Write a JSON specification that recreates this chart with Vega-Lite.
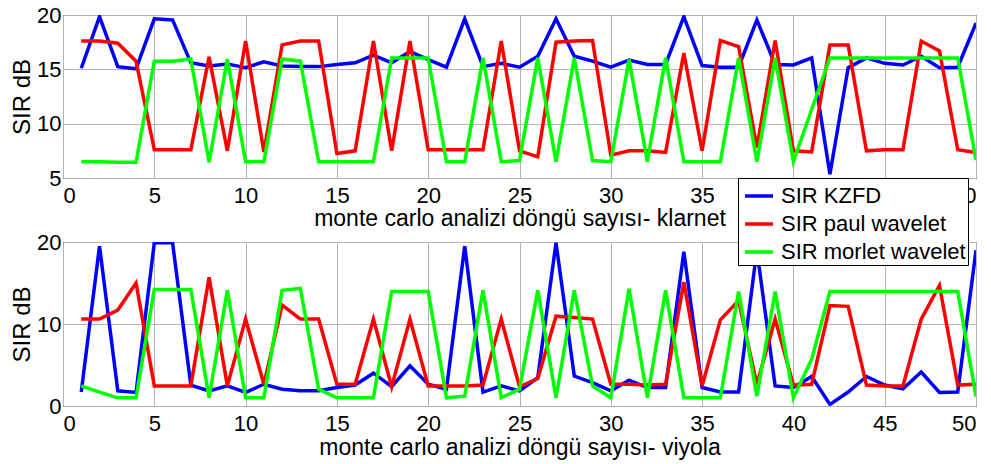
{
  "$schema": "https://vega.github.io/schema/vega-lite/v6.json",
  "padding": {"left": 10, "top": 3, "right": 0, "bottom": 0},
  "background": "white",
  "config": {
    "font": "Liberation Sans",
    "view": {"stroke": "black", "strokeWidth": 1},
    "axis": {
      "labelFont": "Liberation Sans", "labelFontSize": 22, "labelColor": "black",
      "titleFont": "Liberation Sans", "titleFontSize": 23, "titleFontWeight": "normal", "titleColor": "black",
      "domain": false, "ticks": false, "gridColor": "#b4b4b4", "gridOpacity": 1, "gridWidth": 1
    },
    "line": {"strokeWidth": 3.5}
  },
  "spacing": 64,
  "bounds": "flush",
  "datasets": {
    "klarnet": [
      {"n":1,"KZFD":15.1,"paul":17.6,"morlet":6.5},
      {"n":2,"KZFD":19.85,"paul":17.6,"morlet":6.5},
      {"n":3,"KZFD":15.25,"paul":17.4,"morlet":6.45},
      {"n":4,"KZFD":15.05,"paul":15.75,"morlet":6.45},
      {"n":5,"KZFD":19.65,"paul":7.6,"morlet":15.75},
      {"n":6,"KZFD":19.55,"paul":7.6,"morlet":15.75},
      {"n":7,"KZFD":15.6,"paul":7.6,"morlet":15.95},
      {"n":8,"KZFD":15.3,"paul":16.15,"morlet":6.45},
      {"n":9,"KZFD":15.5,"paul":7.5,"morlet":15.95},
      {"n":10,"KZFD":15.15,"paul":17.6,"morlet":6.5},
      {"n":11,"KZFD":15.7,"paul":7.4,"morlet":6.5},
      {"n":12,"KZFD":15.3,"paul":17.25,"morlet":15.95},
      {"n":13,"KZFD":15.25,"paul":17.6,"morlet":15.75},
      {"n":14,"KZFD":15.25,"paul":17.6,"morlet":6.5},
      {"n":15,"KZFD":15.45,"paul":7.25,"morlet":6.5},
      {"n":16,"KZFD":15.6,"paul":7.5,"morlet":6.5},
      {"n":17,"KZFD":16.3,"paul":17.6,"morlet":6.5},
      {"n":18,"KZFD":15.6,"paul":7.5,"morlet":16.05},
      {"n":19,"KZFD":16.65,"paul":17.6,"morlet":16.05},
      {"n":20,"KZFD":15.9,"paul":7.6,"morlet":16.05},
      {"n":21,"KZFD":15.2,"paul":7.6,"morlet":6.5},
      {"n":22,"KZFD":19.65,"paul":7.6,"morlet":6.5},
      {"n":23,"KZFD":15.25,"paul":7.6,"morlet":16.05},
      {"n":24,"KZFD":15.55,"paul":17.6,"morlet":6.5},
      {"n":25,"KZFD":15.2,"paul":7.5,"morlet":6.6},
      {"n":26,"KZFD":16.2,"paul":6.95,"morlet":16.05},
      {"n":27,"KZFD":19.65,"paul":17.5,"morlet":6.5},
      {"n":28,"KZFD":16.2,"paul":17.6,"morlet":16.05},
      {"n":29,"KZFD":15.75,"paul":17.65,"morlet":6.6},
      {"n":30,"KZFD":15.2,"paul":7.1,"morlet":6.5},
      {"n":31,"KZFD":15.85,"paul":7.5,"morlet":15.9},
      {"n":32,"KZFD":15.45,"paul":7.5,"morlet":6.5},
      {"n":33,"KZFD":15.45,"paul":7.35,"morlet":16.05},
      {"n":34,"KZFD":19.85,"paul":16.5,"morlet":6.5},
      {"n":35,"KZFD":15.35,"paul":7.5,"morlet":6.5},
      {"n":36,"KZFD":15.2,"paul":17.65,"morlet":6.5},
      {"n":37,"KZFD":15.2,"paul":17.1,"morlet":16.05},
      {"n":38,"KZFD":19.55,"paul":7.8,"morlet":6.5},
      {"n":39,"KZFD":15.45,"paul":17.65,"morlet":16.05},
      {"n":40,"KZFD":15.4,"paul":7.5,"morlet":6.5},
      {"n":41,"KZFD":16.05,"paul":7.4,"morlet":11.3},
      {"n":42,"KZFD":5.35,"paul":17.25,"morlet":16.05},
      {"n":43,"KZFD":15.15,"paul":17.25,"morlet":16.05},
      {"n":44,"KZFD":16.05,"paul":7.5,"morlet":16.05},
      {"n":45,"KZFD":15.55,"paul":7.6,"morlet":16.05},
      {"n":46,"KZFD":15.4,"paul":7.6,"morlet":16.05},
      {"n":47,"KZFD":16.2,"paul":17.6,"morlet":16.05},
      {"n":48,"KZFD":15.15,"paul":16.7,"morlet":16.05},
      {"n":49,"KZFD":15.2,"paul":7.6,"morlet":16.05},
      {"n":50,"KZFD":19.25,"paul":7.35,"morlet":6.65}
    ],
    "viyola": [
      {"n":1,"KZFD":1.7,"paul":10.6,"morlet":2.45},
      {"n":2,"KZFD":19.5,"paul":10.6,"morlet":1.7},
      {"n":3,"KZFD":1.85,"paul":11.7,"morlet":1.0},
      {"n":4,"KZFD":1.65,"paul":15.0,"morlet":1.0},
      {"n":5,"KZFD":19.9,"paul":2.45,"morlet":14.2},
      {"n":6,"KZFD":19.9,"paul":2.45,"morlet":14.2},
      {"n":7,"KZFD":2.55,"paul":2.45,"morlet":14.2},
      {"n":8,"KZFD":1.85,"paul":15.7,"morlet":1.0},
      {"n":9,"KZFD":2.45,"paul":2.45,"morlet":14.1},
      {"n":10,"KZFD":1.65,"paul":10.6,"morlet":1.0},
      {"n":11,"KZFD":2.65,"paul":2.65,"morlet":1.0},
      {"n":12,"KZFD":2.05,"paul":12.3,"morlet":14.1},
      {"n":13,"KZFD":1.85,"paul":10.6,"morlet":14.35},
      {"n":14,"KZFD":1.85,"paul":10.6,"morlet":2.05},
      {"n":15,"KZFD":2.25,"paul":2.65,"morlet":1.0},
      {"n":16,"KZFD":2.55,"paul":2.65,"morlet":1.0},
      {"n":17,"KZFD":4.0,"paul":10.6,"morlet":1.0},
      {"n":18,"KZFD":2.35,"paul":2.35,"morlet":13.95},
      {"n":19,"KZFD":4.9,"paul":10.6,"morlet":13.95},
      {"n":20,"KZFD":2.65,"paul":2.45,"morlet":13.95},
      {"n":21,"KZFD":2.05,"paul":2.45,"morlet":1.0},
      {"n":22,"KZFD":19.5,"paul":2.45,"morlet":1.2},
      {"n":23,"KZFD":1.7,"paul":2.55,"morlet":14.1},
      {"n":24,"KZFD":2.45,"paul":10.6,"morlet":1.0},
      {"n":25,"KZFD":1.85,"paul":2.35,"morlet":2.05},
      {"n":26,"KZFD":3.45,"paul":3.35,"morlet":14.1},
      {"n":27,"KZFD":19.9,"paul":10.95,"morlet":1.0},
      {"n":28,"KZFD":3.65,"paul":10.8,"morlet":14.1},
      {"n":29,"KZFD":2.85,"paul":10.6,"morlet":2.45},
      {"n":30,"KZFD":1.85,"paul":2.65,"morlet":1.0},
      {"n":31,"KZFD":3.15,"paul":2.65,"morlet":14.3},
      {"n":32,"KZFD":2.25,"paul":2.55,"morlet":1.0},
      {"n":33,"KZFD":2.25,"paul":2.65,"morlet":14.1},
      {"n":34,"KZFD":18.8,"paul":15.1,"morlet":1.0},
      {"n":35,"KZFD":2.25,"paul":2.45,"morlet":1.0},
      {"n":36,"KZFD":1.7,"paul":10.5,"morlet":1.0},
      {"n":37,"KZFD":1.7,"paul":12.85,"morlet":13.95},
      {"n":38,"KZFD":19.0,"paul":2.65,"morlet":1.2},
      {"n":39,"KZFD":2.45,"paul":10.6,"morlet":13.95},
      {"n":40,"KZFD":2.25,"paul":2.55,"morlet":1.0},
      {"n":41,"KZFD":3.6,"paul":2.65,"morlet":5.7},
      {"n":42,"KZFD":0.2,"paul":12.25,"morlet":13.95},
      {"n":43,"KZFD":1.7,"paul":12.15,"morlet":13.95},
      {"n":44,"KZFD":3.6,"paul":2.55,"morlet":13.95},
      {"n":45,"KZFD":2.55,"paul":2.45,"morlet":13.95},
      {"n":46,"KZFD":2.1,"paul":2.45,"morlet":13.95},
      {"n":47,"KZFD":4.15,"paul":10.6,"morlet":13.95},
      {"n":48,"KZFD":1.65,"paul":14.7,"morlet":13.95},
      {"n":49,"KZFD":1.7,"paul":2.55,"morlet":13.95},
      {"n":50,"KZFD":19.0,"paul":2.65,"morlet":1.15}
    ]
  },
  "vconcat": [
    {
      "width": 913,
      "height": 163,
      "data": {"name": "klarnet"},
      "transform": [{"fold": ["KZFD", "paul", "morlet"], "as": ["seri", "SIR"]}],
      "mark": {"type": "line", "clip": true},
      "encoding": {
        "x": {
          "field": "n", "type": "quantitative",
          "scale": {"domain": [0, 50], "nice": false},
          "axis": {"values": [0,5,10,15,20,25,30,35,40,45,50], "title": "monte carlo analizi döngü sayısı- klarnet", "labelPadding": 7, "titlePadding": 1}
        },
        "y": {
          "field": "SIR", "type": "quantitative",
          "scale": {"domain": [5, 20], "nice": false, "zero": false},
          "axis": {"values": [5,10,15,20], "title": "SIR dB", "titleFontSize": 24, "labelPadding": 2, "titlePadding": 2}
        },
        "color": {
          "field": "seri", "type": "nominal",
          "scale": {"domain": ["KZFD", "paul", "morlet"], "range": ["#0000ff", "#ff0000", "#00ff00"]},
          "legend": {
            "title": null, "orient": "none", "legendX": 675, "legendY": 163,
            "symbolType": "stroke", "symbolSize": 784, "symbolStrokeWidth": 4, "symbolOffset": 3,
            "labelFont": "Liberation Sans", "labelFontSize": 22, "labelColor": "black", "labelLimit": 400,
            "fillColor": "white", "strokeColor": "black", "padding": 2, "rowPadding": 1, "labelOffset": 6,
            "zindex": 1,
            "labelExpr": "datum.label == 'KZFD' ? 'SIR KZFD' : datum.label == 'paul' ? 'SIR paul wavelet' : 'SIR morlet wavelet'"
          }
        }
      }
    },
    {
      "width": 913,
      "height": 164,
      "data": {"name": "viyola"},
      "transform": [{"fold": ["KZFD", "paul", "morlet"], "as": ["seri", "SIR"]}],
      "mark": {"type": "line", "clip": true},
      "encoding": {
        "x": {
          "field": "n", "type": "quantitative",
          "scale": {"domain": [0, 50], "nice": false},
          "axis": {"values": [0,5,10,15,20,25,30,35,40,45,50], "title": "monte carlo analizi döngü sayısı- viyola", "labelPadding": 7, "titlePadding": 2}
        },
        "y": {
          "field": "SIR", "type": "quantitative",
          "scale": {"domain": [0, 20], "nice": false},
          "axis": {"values": [0,10,20], "title": "SIR dB", "titleFontSize": 24, "labelPadding": 2, "titlePadding": 2}
        },
        "color": {
          "field": "seri", "type": "nominal",
          "scale": {"domain": ["KZFD", "paul", "morlet"], "range": ["#0000ff", "#ff0000", "#00ff00"]}
        }
      }
    }
  ]
}
